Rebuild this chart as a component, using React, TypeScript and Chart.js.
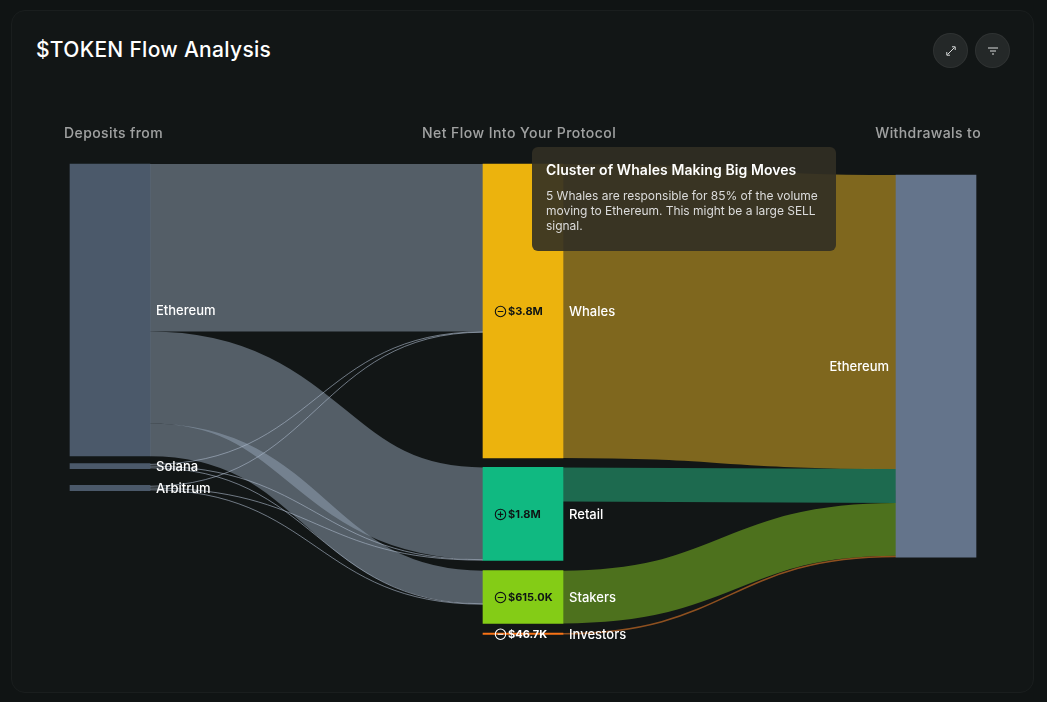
import React, { useEffect, useRef } from "react";
import { Chart, registerables } from "chart.js";

Chart.register(...registerables);

// ---- Data ($K) ----
const columnTitles = ["Deposits from", "Net Flow Into Your Protocol", "Withdrawals to"];
const depositNodes = ["Ethereum", "Solana", "Arbitrum"];
const depositTotals = [8964, 160, 163];
const cohortNodes = ["Whales", "Retail", "Stakers", "Investors"];
const netFlowLabels = ["$3.8M", "$1.8M", "$615.0K", "$46.7K"];
const netFlowSigns = ["-", "+", "-", "-"];
const withdrawalNodes = ["Ethereum"];
const ethereumDeposits = [5142, 2824, 1007, 0];
const solanaDeposits = [15, 15, 15, 0];
const arbitrumDeposits = [15, 15, 15, 0];
const withdrawalsToEthereum = [9026, 1044, 1618, 46.7];

// ---- Layout, in the value units of the y axis ----
const depositGaps = [0, 230, 512];
const cohortGaps = [0, 289, 316, 295];
const withdrawalGaps = [338];
const Y_MAX = 14613;

// ---- Style ----
const SLATE_LINK = "rgba(150,165,184,0.5)";
const SLATE_THIN = "rgba(170,183,200,0.62)";
const DEPOSIT_NODE = "rgba(100,118,142,0.7)";
const WITHDRAW_NODE = "#64748b";
const cohortColors = ["#ecb30d", "#10b981", "#84cc16", "#f97316"];
const cohortLinks = ["rgba(236,184,38,0.5)", "rgba(40,190,135,0.5)", "rgba(136,204,36,0.5)", "rgba(245,130,40,0.55)"];
const LABEL_FONT = "Inter";
const BAR_W = 80;

const sum = (a: number[]) => a.reduce((p, c) => p + c, 0);
const depositMatrix = [ethereumDeposits, solanaDeposits, arbitrumDeposits];

function stack(heights: number[], gaps: number[]) {
  let y = 0;
  return heights.map((h, i) => {
    y += gaps[i];
    const r: [number, number] = [y, y + h];
    y += h;
    return r;
  });
}

const cohortIn = cohortNodes.map((_, c) => sum(depositMatrix.map((r) => r[c])));
const cohortHeights = cohortNodes.map((_, c) => Math.max(cohortIn[c], withdrawalsToEthereum[c]));
const depositRanges = stack(depositTotals, depositGaps);
const cohortRanges = stack(cohortHeights, cohortGaps);
const withdrawalRanges = stack([sum(withdrawalsToEthereum)], withdrawalGaps);

type Link = { c0: number; c1: number; a: number; b: number; v: number; color: string };

function buildLinks(): Link[] {
  const out: Link[] = [];
  const targetOffset = cohortNodes.map(() => 0);
  depositMatrix.forEach((row, s) => {
    const used = sum(row);
    const count = row.filter((v) => v > 0).length;
    const pad = (depositTotals[s] - used) / count;
    let a = depositRanges[s][0] + (pad > 0 ? pad / 2 : 0);
    row.forEach((v, c) => {
      if (!v) return;
      out.push({ c0: 0, c1: 1, a, b: cohortRanges[c][0] + targetOffset[c], v, color: v < 100 ? SLATE_THIN : SLATE_LINK });
      a += v + (pad > 0 ? pad : 0);
      targetOffset[c] += v;
    });
  });
  let r = withdrawalRanges[0][0];
  withdrawalsToEthereum.forEach((v, c) => {
    out.push({ c0: 1, c1: 2, a: cohortRanges[c][0], b: r, v, color: cohortLinks[c] });
    r += v;
  });
  return out;
}
const links = buildLinks();

const barData = [
  ...depositRanges.map((y) => ({ x: 0, y })),
  ...cohortRanges.map((y) => ({ x: 1, y })),
  ...withdrawalRanges.map((y) => ({ x: 2, y })),
];
const barColors = [
  ...depositNodes.map(() => DEPOSIT_NODE),
  ...cohortColors,
  ...withdrawalNodes.map(() => WITHDRAW_NODE),
];

function text(ctx: CanvasRenderingContext2D, s: string, x: number, y: number, font: string, color: string, align: CanvasTextAlign = "left", spacing = 0) {
  ctx.font = font;
  ctx.fillStyle = color;
  ctx.textAlign = align;
  ctx.textBaseline = "middle";
  (ctx as any).letterSpacing = spacing + "px";
  ctx.fillText(s, x, y);
  (ctx as any).letterSpacing = "0px";
}

const sankeyPlugin = {
  id: "sankeyLinks",
  beforeDatasetsDraw(chart: any) {
    const { ctx, scales } = chart;
    const { x, y } = scales;
    ctx.save();
    ctx.lineCap = "butt";
    links.forEach((l) => {
      const x0 = x.getPixelForValue(l.c0) + BAR_W / 2;
      const x1 = x.getPixelForValue(l.c1) - BAR_W / 2;
      const m = (x0 + x1) / 2;
      const ya = y.getPixelForValue(l.a + l.v / 2);
      const yb = y.getPixelForValue(l.b + l.v / 2);
      const w = Math.abs(y.getPixelForValue(l.v) - y.getPixelForValue(0));
      ctx.beginPath();
      ctx.moveTo(x0, ya);
      ctx.bezierCurveTo(m, ya, m, yb, x1, yb);
      ctx.strokeStyle = l.color;
      ctx.lineWidth = Math.max(1, w);
      ctx.stroke();
    });
    ctx.restore();
  },
  afterDatasetsDraw(chart: any) {
    const { ctx, scales } = chart;
    const { x, y } = scales;
    ctx.save();
    const centre = (r: number[]) => (y.getPixelForValue(r[0]) + y.getPixelForValue(r[1])) / 2 + 1;
    // column headings
    const headFont = `500 14px ${LABEL_FONT}`;
    const headColor = "rgba(255,255,255,0.6)";
    text(ctx, columnTitles[0], 64, 134, headFont, headColor, "left", 0.4);
    text(ctx, columnTitles[1], 422, 134, headFont, headColor, "left", 0.45);
    text(ctx, columnTitles[2], 981, 134, headFont, headColor, "right", 0.4);
    // node names
    const nameFont = `500 13px ${LABEL_FONT}`;
    depositNodes.forEach((n, i) => {
      text(ctx, n, x.getPixelForValue(0) + BAR_W / 2 + 6, centre(depositRanges[i]), nameFont, "#fff");
    });
    cohortNodes.forEach((n, i) => {
      const cy = centre(cohortRanges[i]);
      const left = x.getPixelForValue(1) - BAR_W / 2;
      text(ctx, n, left + BAR_W + 6, cy, nameFont, "#fff");
      const ink = i === 3 ? "#fff" : "#0f1414";
      const ix = left + 17.5;
      ctx.strokeStyle = ink;
      ctx.lineWidth = 1.1;
      ctx.beginPath();
      ctx.arc(ix, cy - 0.5, 5.2, 0, Math.PI * 2);
      ctx.moveTo(ix - 2.8, cy - 0.5);
      ctx.lineTo(ix + 2.8, cy - 0.5);
      if (netFlowSigns[i] === "+") {
        ctx.moveTo(ix, cy - 3.3);
        ctx.lineTo(ix, cy + 2.3);
      }
      ctx.stroke();
      text(ctx, netFlowLabels[i], left + 25, cy, `700 11px ${LABEL_FONT}`, ink);
    });
    text(ctx, withdrawalNodes[0], x.getPixelForValue(2) - BAR_W / 2 - 7, centre(withdrawalRanges[0]), nameFont, "#fff", "right");
    ctx.restore();
  },
};

function ExpandIcon() {
  return (
    <svg width="12" height="12" viewBox="0 0 12 12" fill="none" stroke="#d8dada" strokeWidth="1">
      <path d="M2.5 9.5 L9.5 2.5" />
      <path d="M7 1.8 H10.2 V5" />
      <path d="M1.8 7 V10.2 H5" />
    </svg>
  );
}
function FilterIcon() {
  return (
    <svg width="12" height="12" viewBox="0 0 12 12" fill="none" stroke="#d8dada" strokeWidth="1">
      <path d="M1 3 H11" />
      <path d="M3 6 H9" />
      <path d="M5 9 H7" />
    </svg>
  );
}

const iconButton = (left: number): React.CSSProperties => ({
  position: "absolute",
  left,
  top: 33,
  width: 33,
  height: 33,
  borderRadius: "50%",
  background: "rgba(255,255,255,0.08)",
  border: "1px solid rgba(255,255,255,0.05)",
  display: "flex",
  alignItems: "center",
  justifyContent: "center",
});

export default function App() {
  const ref = useRef<HTMLCanvasElement>(null);
  useEffect(() => {
    document.body.style.margin = "0";
    document.body.style.background = "#101414";
    const chart = new Chart(ref.current as HTMLCanvasElement, {
      type: "bar",
      data: {
        datasets: [
          {
            data: barData as any,
            backgroundColor: barColors,
            borderWidth: 0,
            barThickness: BAR_W,
            clip: false as any,
          },
        ],
      },
      options: {
        animation: false,
        responsive: false,
        devicePixelRatio: 1,
        layout: { padding: { left: 110, right: 111, top: 164, bottom: 62 } },
        plugins: { legend: { display: false }, tooltip: { enabled: false }, title: { display: false } },
        scales: {
          x: { type: "linear", min: 0, max: 2, offset: false, display: false },
          y: { type: "linear", min: 0, max: Y_MAX, reverse: true, display: false },
        },
      },
      plugins: [sankeyPlugin],
    });
    return () => chart.destroy();
  }, []);

  return (
    <div style={{ position: "absolute", left: 0, top: 0, width: 1047, height: 702, overflow: "hidden", background: "#101414", fontFamily: "Inter" }}>
      <div style={{ position: "absolute", left: 11, top: 10, width: 1021, height: 681, background: "#121616", border: "1px solid #1a1e1e", borderRadius: 14 }} />
      <div style={{ position: "absolute", left: 36, top: 36, color: "#fff", fontSize: 21, fontWeight: 500, lineHeight: "27px", letterSpacing: "0.3px", whiteSpace: "nowrap" }}>
        $TOKEN Flow Analysis
      </div>
      <div style={iconButton(933)}><ExpandIcon /></div>
      <div style={iconButton(975)}><FilterIcon /></div>
      <canvas ref={ref} width={1047} height={702} style={{ position: "absolute", left: 0, top: 0, width: 1047, height: 702 }} />
      <div style={{ position: "absolute", left: 532, top: 147, width: 304, height: 104, boxSizing: "border-box", padding: "14px 14px", borderRadius: 6, background: "rgba(50,47,35,0.9)", color: "#fff" }}>
        <div style={{ fontSize: 14, fontWeight: 600, lineHeight: "18px", letterSpacing: "0.08px", whiteSpace: "nowrap" }}>Cluster of Whales Making Big Moves</div>
        <div style={{ fontSize: 12, lineHeight: "15px", marginTop: 9, color: "#dcdcdc", letterSpacing: "-0.03px" }}>
          5 Whales are responsible for 85% of the volume moving to Ethereum. This might be a large SELL signal.
        </div>
      </div>
    </div>
  );
}
